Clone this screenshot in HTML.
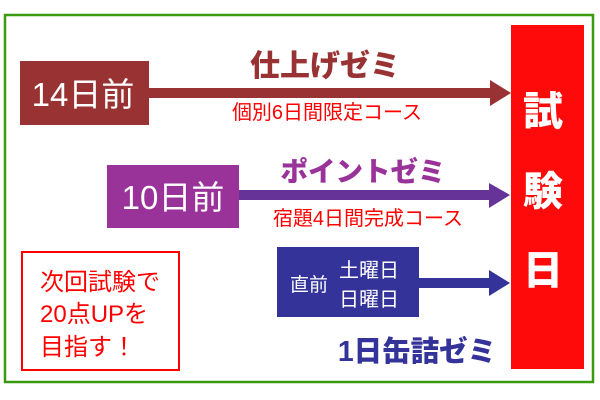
<!DOCTYPE html>
<html><head><meta charset="utf-8"><style>
html,body{margin:0;padding:0;background:#fff;}
svg{display:block;}
text{font-family:"Liberation Sans","Noto Sans CJK JP",sans-serif;}
</style></head><body>
<svg width="600" height="400" viewBox="0 0 600 400" xmlns="http://www.w3.org/2000/svg">
<rect x="5" y="15" width="588" height="367" fill="#fff" stroke="#3a9a10" stroke-width="2.5"/>
<rect x="511" y="25" width="73" height="344" fill="#ff0a0a"/>
<g fill="#fff" font-size="40" font-weight="900" text-anchor="middle">
<text x="543" y="125">試</text>
<text x="543" y="205">験</text>
<text x="543" y="284">日</text>
</g>
<!-- row 1 -->
<rect x="20" y="61" width="129" height="64" fill="#993333"/>
<text x="83" y="106" fill="#fff" font-size="33" text-anchor="middle">14日前</text>
<rect x="149" y="88" width="342" height="10" fill="#993333"/>
<polygon points="490,80 511,93 490,106" fill="#993333"/>
<text x="325" y="76" fill="#993333" font-size="30" font-weight="900" text-anchor="middle">仕上げゼミ</text>
<text x="327" y="119" fill="#ff0000" font-size="20" text-anchor="middle">個別6日間限定コース</text>
<!-- row 2 -->
<rect x="107" y="165" width="132" height="63" fill="#993399"/>
<text x="173" y="209" fill="#fff" font-size="33" text-anchor="middle">10日前</text>
<rect x="239" y="190" width="252" height="10" fill="#663399"/>
<polygon points="489,183 510,195 489,208" fill="#663399"/>
<text x="363" y="181" fill="#993399" font-size="27.5" font-weight="900" text-anchor="middle">ポイントゼミ</text>
<text x="368" y="225" fill="#ff0000" font-size="20" text-anchor="middle">宿題4日間完成コース</text>
<!-- row 3 -->
<rect x="277" y="247" width="142" height="70" fill="#333399"/>
<text x="309" y="291" fill="#fff" font-size="19" text-anchor="middle">直前</text>
<text x="369" y="277" fill="#fff" font-size="20" text-anchor="middle">土曜日</text>
<text x="369" y="306" fill="#fff" font-size="20" text-anchor="middle">日曜日</text>
<rect x="419" y="278" width="72" height="10" fill="#333399"/>
<polygon points="489,270 510,283 489,296" fill="#333399"/>
<text x="417" y="361" fill="#333399" font-size="28.5" font-weight="900" text-anchor="middle">1日缶詰ゼミ</text>
<!-- note -->
<rect x="22" y="252" width="157" height="118" fill="#fff" stroke="#ff0000" stroke-width="2"/>
<g fill="#ff0000" font-size="24">
<text x="40" y="290">次回試験で</text>
<text x="40" y="322">20点UPを</text>
<text x="40" y="355">目指す！</text>
</g>
</svg>
</body></html>
